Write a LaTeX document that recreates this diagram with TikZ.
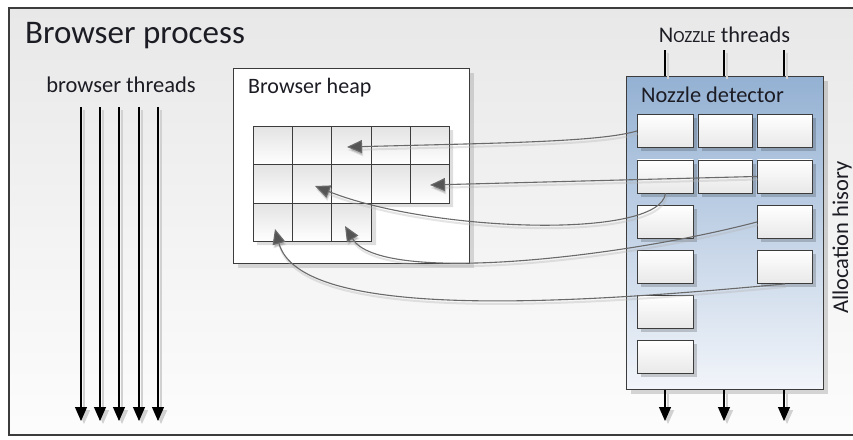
\documentclass[tikz,border=0pt]{standalone}
\usepackage{fontspec}
\setmainfont{Carlito}
\usetikzlibrary{arrows.meta,shadows}

\definecolor{ink}{HTML}{1C1C24}
\definecolor{edge}{HTML}{3C3C3C}
\definecolor{linkgray}{HTML}{6A6A6A}
\definecolor{headgray}{HTML}{555555}
\definecolor{detblue}{HTML}{94B1D3}
\definecolor{detpale}{HTML}{F2F5FA}

\tikzset{
  label/.style={text=ink, inner sep=0pt},
  softshadow/.style={preaction={draw=black!18, line width=1.6pt,
      transform canvas={xshift=3pt,yshift=-3pt}}},
  thread/.style={draw=black, line width=1.1pt, softshadow,
      -{Triangle[length=14pt,width=12pt]}},
  plainthread/.style={draw=black, line width=1.1pt, softshadow},
  heapcell/.style={draw=edge, line width=0.9pt, top color=black!11,
      bottom color=white, minimum width=39.2pt, minimum height=38.33pt,
      inner sep=0pt, anchor=north west},
  slot/.style={draw=edge, line width=0.9pt, top color=white,
      bottom color=black!9, inner sep=0pt, anchor=north west,
      minimum height=33pt,
      drop shadow={shadow xshift=4pt, shadow yshift=-4pt,
        fill=black, opacity=0.18}},
  link/.style={draw=linkgray, line width=1.1pt,
      -{Triangle[length=15pt,width=13pt,fill=headgray]},
      preaction={draw=white!70!black, opacity=0.35, line width=2pt,
        transform canvas={xshift=1pt,yshift=-3pt}}},
}

\begin{document}
\begin{tikzpicture}[x=1pt,y=-1pt]
\useasboundingbox (0,0) rectangle (853,439);

% process frame, open on the right
\fill[top color=black!9, bottom color=black!1] (9,8) rectangle (853,435);
\draw[edge, line width=1.3pt] (853,8) -- (9,8) -- (9,435) -- (853,435);

\node[label, anchor=base west, font=\fontsize{33}{38}\selectfont]
  (title) at (25,43) {Browser process};

% browser threads
\node[label, anchor=base, font=\fontsize{22.5}{26}\selectfont]
  (btlabel) at (121,92) {browser threads};
\foreach \i/\x in {1/81,2/100,3/119,4/139,5/158}{
  \coordinate (bt\i s) at (\x,107);
  \coordinate (bt\i e) at (\x,421);
  \draw[thread] (bt\i s) -- (bt\i e);
}

% browser heap
\node[draw=edge, line width=1pt, fill=white, minimum width=236pt,
  minimum height=195pt, anchor=north west, inner sep=0pt,
  drop shadow={shadow xshift=4pt, shadow yshift=-4pt, fill=black, opacity=0.13}]
  (heap) at (233,68) {};
\node[label, anchor=base west, font=\fontsize{22}{26}\selectfont]
  (heaplabel) at (248,93) {Browser heap};

% shadow under the L-shaped block of heap cells
\fill[black, opacity=0.13] (257,130) -- (453,130) -- (453,207) -- (376,207)
  -- (376,245) -- (257,245) -- cycle;
\foreach \c in {0,...,4}{
  \node[heapcell] (hc1\c) at ({253+39.2*\c},126) {};
  \node[heapcell] (hc2\c) at ({253+39.2*\c},164.33) {};
}
\foreach \c in {0,...,2}{
  \node[heapcell] (hc3\c) at ({253+39.2*\c},202.67) {};
}

% nozzle detector
\node[draw=edge, line width=1pt, top color=detblue, bottom color=detpale,
  minimum width=197pt, minimum height=313pt, anchor=north west, inner sep=0pt,
  drop shadow={shadow xshift=4pt, shadow yshift=-4pt, fill=black, opacity=0.15}]
  (det) at (626,76) {};
\node[label, anchor=base west, font=\fontsize{22.4}{26}\selectfont]
  (detlabel) at (641,102) {Nozzle detector};

\node[label, anchor=base, font=\fontsize{22.4}{26}\selectfont]
  (ntlabel) at (724.5,42) {N{\fontsize{17}{20}\selectfont OZZLE} threads};
\foreach \i/\x in {1/665,2/724,3/784}{
  \coordinate (nt\i s) at (\x,50);
  \draw[plainthread] (nt\i s) -- (det.north -| nt\i s);
  \coordinate (no\i e) at (\x,421);
  \draw[thread] (det.south -| no\i e) -- (no\i e);
}

% allocation-history slots
\foreach \r/\y in {1/114,2/159.5,3/205,4/250,5/295,6/340}{
  \node[slot, minimum width=56pt] (d\r1) at (637,\y) {};
}
\foreach \r/\y in {1/114,2/159.5}{
  \node[slot, minimum width=54pt] (d\r2) at (698,\y) {};
}
\foreach \r/\y in {1/114,2/159.5,3/205,4/250}{
  \node[slot, minimum width=55pt] (d\r3) at (757,\y) {};
}

\node[label, anchor=base west, rotate=90, font=\fontsize{22.5}{26}\selectfont]
  (histlabel) at (848,314) {Allocation hisory};

% references from history slots into heap cells
\coordinate (h1) at (347,147);
\coordinate (h2) at (430,185);
\coordinate (h3) at (315,186);
\coordinate (h4) at (345,226);
\coordinate (h5) at (275,229);

\draw[link] (d11.west) .. controls (600,142) and (500,143) .. (h1);
\draw[link] (d23.west) -- (h2);
\draw[link] (d21.south) .. controls (660,240) and (430,232) .. (h3);
\draw[link] (d33.west) .. controls (620,258) and (380,285) .. (h4);
\draw[link] (d43.south) .. controls (560,305) and (300,320) .. (h5);
\end{tikzpicture}
\end{document}
